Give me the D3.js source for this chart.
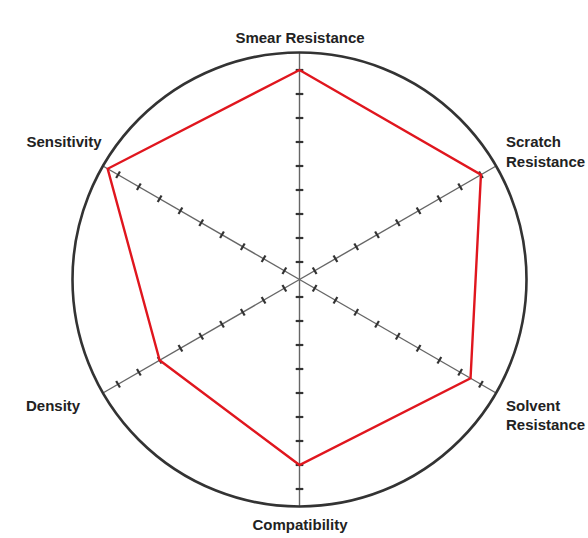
<!DOCTYPE html>
<html>
<head>
<meta charset="utf-8">
<script src="https://cdn.jsdelivr.net/npm/d3@7"></script>
<style>
  html, body { margin: 0; padding: 0; background: #fff; }
  svg { display: block; }
  text { font-family: "Liberation Sans", Arial, Helvetica, sans-serif; font-weight: bold; font-size: 15px; fill: #222; }
</style>
</head>
<body>
<svg id="chart" width="588" height="538"></svg>
<script>
// ---- data ----
const categories = ["Smear Resistance", "Scratch Resistance", "Solvent Resistance", "Compatibility", "Density", "Sensitivity"];
const values = [9, 9, 8.5, 8, 7, 9.5];
const tickValues = [1, 2, 3, 4, 5, 6, 7, 8, 9];

// ---- layout ----
const W = 588, H = 538;
const cx = 299.5, cy = 279.5;
const outerR = 227;
const svg = d3.select("#chart");
svg.append("rect").attr("width", W).attr("height", H).attr("fill", "#fff");

const r = d3.scaleLinear().domain([1, 9]).range([17.5, 209.5]);
const angle = d3.scalePoint().domain(categories).range([-90, 210]); // degrees, 60 deg apart
const rad = d => angle(d) * Math.PI / 180;

const g = svg.append("g").attr("transform", `translate(${cx},${cy})`);

// spokes
g.selectAll("line.spoke").data(categories).enter().append("line")
  .attr("class", "spoke")
  .attr("x1", 0).attr("y1", 0)
  .attr("x2", d => outerR * Math.cos(rad(d)))
  .attr("y2", d => outerR * Math.sin(rad(d)))
  .attr("stroke", "#666").attr("stroke-width", 1.4);

// ticks
const tickData = [];
categories.forEach(c => tickValues.forEach(v => tickData.push({c, v})));
const tl = 3.8;
g.selectAll("line.tick").data(tickData).enter().append("line")
  .attr("class", "tick")
  .attr("x1", d => { const a = rad(d.c); return r(d.v) * Math.cos(a) - tl * Math.sin(a); })
  .attr("y1", d => { const a = rad(d.c); return r(d.v) * Math.sin(a) + tl * Math.cos(a); })
  .attr("x2", d => { const a = rad(d.c); return r(d.v) * Math.cos(a) + tl * Math.sin(a); })
  .attr("y2", d => { const a = rad(d.c); return r(d.v) * Math.sin(a) - tl * Math.cos(a); })
  .attr("stroke", "#333").attr("stroke-width", 2.2);

// outer circle
g.append("circle").attr("r", outerR).attr("fill", "none")
  .attr("stroke", "#333").attr("stroke-width", 2.6);

// data polygon
const line = d3.lineRadial()
  .angle((d, i) => (angle(categories[i]) + 90) * Math.PI / 180)
  .radius(d => r(d))
  .curve(d3.curveLinearClosed);
g.append("path").datum(values).attr("d", line)
  .attr("fill", "none").attr("stroke", "#e0161e").attr("stroke-width", 2.4)
  .attr("stroke-linejoin", "miter");

// labels (layout positions)
const labelPos = [
  {x: 300, y: 42.7, anchor: "middle"},
  {x: 506, y: 147.3, anchor: "start"},
  {x: 506, y: 410.7, anchor: "start"},
  {x: 300, y: 530, anchor: "middle"},
  {x: 26, y: 411, anchor: "start"},
  {x: 26.5, y: 146.7, anchor: "start"}
];
categories.forEach((c, i) => {
  const p = labelPos[i];
  const words = c.includes("Resistance") && p.anchor === "start" ? c.split(" ") : [c];
  const t = svg.append("text").attr("x", p.x).attr("y", p.y).attr("text-anchor", p.anchor);
  words.forEach((w, j) => {
    t.append("tspan").attr("x", p.x).attr("dy", j === 0 ? 0 : 19.4).text(w);
  });
});
</script>
</body>
</html>
